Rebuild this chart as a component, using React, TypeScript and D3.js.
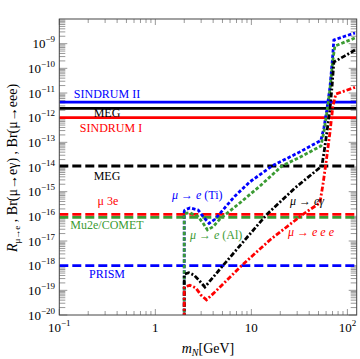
import React from "react";
import * as d3 from "d3";

// ---- data ----
const xDomain = [0.1, 125];
const yDomain = [1e-20, 1e-8];

const xTickExps = [-1, 0, 1, 2];
const yTickExps = [-9, -10, -11, -12, -13, -14, -15, -16, -17, -18, -19, -20];

// horizontal experimental limits
const limitNames = ["SINDRUM II", "MEG", "SINDRUM I", "MEG", "μ 3e", "Mu2e/COMET", "PRISM"];
const limitValues = [4.3e-12, 2.4e-12, 1.0e-12, 1.1e-14, 1.2e-16, 9e-17, 1e-18];
const limitColors = ["#0000ff", "#000000", "#ff0000", "#000000", "#ff0000", "#3b9b33", "#0000ff"];
const limitDashed = [false, false, false, true, true, true, true];
const limitLabelX = [107, 107, 111, 107, 108, 107, 107];
const limitLabelDy = [-4, 9, 14, 14, -9, 12, 12];

// theory curves
const mTi = [2.0, 2.0, 2.03, 2.29, 2.79, 3.15, 3.63, 4.17, 4.7, 6.73, 9.65, 16.4, 32, 53, 56.9, 61, 65.7, 69.8, 72.3, 94, 120];
const rTi = [1e-21, 1.6e-16, 1.8e-16, 2.2e-16, 1.8e-16, 9.7e-17, 5.2e-17, 7.6e-17, 1.3e-16, 6.6e-16, 2.5e-15, 1.1e-14, 4.1e-14, 1.2e-13, 3.8e-13, 2.0e-12, 1.6e-11, 2.2e-10, 1.4e-9, 2.0e-9, 2.7e-9];

const mAl = [2.0, 2.0, 2.03, 2.29, 2.79, 3.15, 3.49, 4.0, 4.7, 7.6, 12.3, 20.8, 32, 53, 56.9, 61, 65.7, 70.6, 74.1, 120];
const rAl = [1e-21, 1.2e-16, 1.3e-16, 1.4e-16, 9.7e-17, 5.2e-17, 2.8e-17, 3.8e-17, 7.8e-17, 3.5e-16, 1.7e-15, 1.1e-14, 2.5e-14, 7.1e-14, 2.6e-13, 1.5e-12, 1.3e-11, 2.2e-10, 8.0e-10, 1.7e-9];

const mEg = [2.0, 2.0, 2.03, 2.23, 2.52, 2.84, 3.28, 5.05, 8.55, 14.5, 28.4, 54.2, 57.6, 61, 65.7, 69, 72.3, 94, 120];
const bEg = [1e-21, 4.4e-19, 4.6e-19, 5.2e-19, 4.2e-19, 2.6e-19, 1.36e-19, 1e-18, 1.1e-17, 1.2e-16, 1.4e-15, 1.1e-14, 4.9e-14, 2.4e-13, 2.0e-12, 1.6e-11, 1.8e-10, 3.2e-10, 5.5e-10];

const mEee = [2.0, 2.0, 2.03, 2.29, 2.64, 2.98, 3.41, 4.17, 7.9, 15.6, 34.4, 51.7, 55.6, 60.4, 65.7, 70.6, 75.8, 120];
const bEee = [1e-21, 1.3e-19, 1.4e-19, 1.6e-19, 1.25e-19, 6.5e-20, 4.1e-20, 8.5e-20, 1e-18, 1.1e-17, 1.2e-16, 3.5e-16, 1.9e-15, 1.9e-14, 2.4e-13, 2.9e-12, 9.1e-12, 1.7e-11];

const W = 360;
const H = 359;
const M = { left: 59.3, right: 356.7, top: 19, bottom: 315 };

export default function App() {
  const x = d3.scaleLog().domain(xDomain).range([M.left, M.right]);
  const y = d3.scaleLog().domain(yDomain).range([M.bottom, M.top]);

  const line = d3
    .line<[number, number]>()
    .x((d) => x(d[0]))
    .y((d) => y(d[1]));

  const curves = [
    { m: mTi, v: rTi, color: "#0000ff", dash: "3.5,2" },
    { m: mAl, v: rAl, color: "#3b9b33", dash: "3.5,2" },
    { m: mEg, v: bEg, color: "#000000", dash: "5,2,2,2" },
    { m: mEee, v: bEee, color: "#ff0000", dash: "5,2,2,2" },
  ];

  // minor ticks
  const xMinor: number[] = [];
  for (let e = -1; e <= 2; e++) for (let k = 1; k <= 9; k++) {
    const v = k * Math.pow(10, e);
    if (v >= xDomain[0] && v <= xDomain[1]) xMinor.push(v);
  }
  const yMinor: number[] = [];
  for (let e = -20; e < -8; e++) for (let k = 1; k <= 9; k++) yMinor.push(k * Math.pow(10, e));

  const tickColor = "#999";
  const font = "'Liberation Serif', 'DejaVu Serif', serif";

  return (
    <svg width={W} height={H} style={{ position: "absolute", left: 0, top: 0, display: "block", background: "#fff" }} fontFamily={font}>
      <defs>
        <clipPath id="plotclip">
          <rect x={M.left} y={M.top} width={M.right - M.left} height={M.bottom - M.top} />
        </clipPath>
      </defs>

      {/* ticks */}
      {yMinor.map((v, i) => {
        const major = i % 9 === 0;
        const len = major ? 8 : 6;
        return (
          <g key={"yt" + i}>
            <line x1={M.left} x2={M.left + len} y1={y(v)} y2={y(v)} stroke={tickColor} strokeWidth={1} />
            <line x1={M.right} x2={M.right - len} y1={y(v)} y2={y(v)} stroke={tickColor} strokeWidth={1} />
          </g>
        );
      })}
      {xMinor.map((v, i) => {
        const major = Math.abs(Math.log10(v) - Math.round(Math.log10(v))) < 1e-9;
        const len = major ? 6 : 4;
        return (
          <g key={"xt" + i}>
            <line x1={x(v)} x2={x(v)} y1={M.bottom} y2={M.bottom - len} stroke={tickColor} strokeWidth={1} />
            <line x1={x(v)} x2={x(v)} y1={M.top} y2={M.top + len} stroke={tickColor} strokeWidth={1} />
          </g>
        );
      })}

      {/* limit lines */}
      <g clipPath="url(#plotclip)">
        {limitValues.map((v, i) => (
          <line
            key={"lim" + i}
            x1={M.left}
            x2={M.right}
            y1={y(v)}
            y2={y(v)}
            stroke={limitColors[i]}
            strokeWidth={2.8}
            strokeDasharray={limitDashed[i] ? "9,4" : undefined}
          />
        ))}
        {curves.map((c, i) => (
          <path
            key={"c" + i}
            d={line(c.m.map((m, j) => [m, c.v[j]] as [number, number])) || ""}
            fill="none"
            stroke={c.color}
            strokeWidth={2.8}
            strokeDasharray={c.dash}
          />
        ))}
      </g>

      {/* limit labels */}
      {limitValues.map((v, i) => (
        <text
          key={"ll" + i}
          x={limitLabelX[i]}
          y={y(v) + limitLabelDy[i]}
          fill={limitColors[i]}
          fontSize={12}
          textAnchor="middle"
        >
          {limitNames[i]}
        </text>
      ))}

      {/* curve labels */}
      <text x={172} y={198.5} fontSize={12} fill="#0000ff">
        <tspan fontStyle="italic">μ</tspan> → <tspan fontStyle="italic">e</tspan> (Ti)
      </text>
      <text x={190} y={238.5} fontSize={12} fill="#3b9b33">
        <tspan fontStyle="italic">μ</tspan> → <tspan fontStyle="italic">e</tspan> (Al)
      </text>
      <text x={290} y={205} fontSize={12} fill="#000">
        <tspan fontStyle="italic">μ</tspan> → <tspan fontStyle="italic">eγ</tspan>
      </text>
      <text x={288} y={236} fontSize={12} fill="#ff0000">
        <tspan fontStyle="italic">μ</tspan> → <tspan fontStyle="italic">e e e</tspan>
      </text>

      {/* frame */}
      <rect x={M.left} y={M.top} width={M.right - M.left} height={M.bottom - M.top} fill="none" stroke="#444" strokeWidth={1} />

      {/* y tick labels */}
      {yTickExps.map((e) => (
        <text key={"yl" + e} x={55} y={y(Math.pow(10, e)) + 4.5} fontSize={13} textAnchor="end" fill="#000">
          10
          <tspan dy={-6} fontSize={9}>{"−" + Math.abs(e)}</tspan>
        </text>
      ))}

      {/* x tick labels */}
      {xTickExps.map((e) => (
        <text key={"xl" + e} x={x(Math.pow(10, e))} y={332} fontSize={13} textAnchor="middle" fill="#000">
          {e === 0 ? "1" : "10"}
          {e === -1 || e === 2 ? (
            <tspan dy={-6} fontSize={9}>{e === -1 ? "−1" : "2"}</tspan>
          ) : null}
        </text>
      ))}

      {/* axis titles */}
      <text x={208} y={353} fontSize={14} textAnchor="middle" fill="#000">
        <tspan fontStyle="italic">m</tspan>
        <tspan dy={2.5} fontSize={10} fontStyle="italic">N</tspan>
        <tspan dy={-2.5}>[GeV]</tspan>
      </text>
      <text transform="translate(17,168) rotate(-90)" fontSize={14} textAnchor="middle" fill="#000">
        <tspan fontStyle="italic">R</tspan>
        <tspan dy={3} fontSize={9}>μ→e</tspan>
        <tspan dy={-3}> , Br(μ→eγ) , Br(μ→eee)</tspan>
      </text>
    </svg>
  );
}
